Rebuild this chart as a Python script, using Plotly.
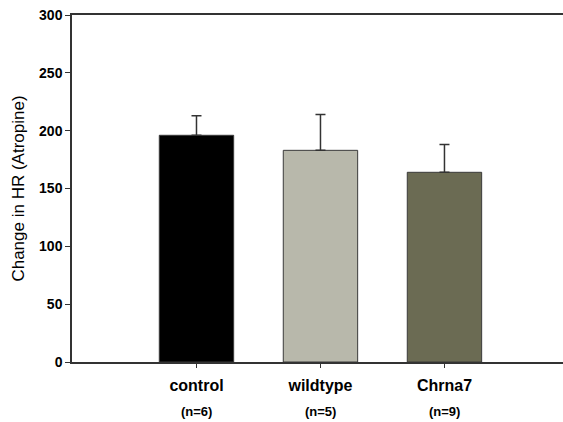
import plotly.graph_objects as go

categories = ["control", "wildtype", "Chrna7"]
n_labels = ["(n=6)", "(n=5)", "(n=9)"]
means = [196, 183, 164]
errors_up = [17, 31, 24]
colors = ["#000000", "#b8b8ab", "#6b6b53"]
y_ticks = [0, 50, 100, 150, 200, 250, 300]

x_pos = list(range(len(categories)))

fig = go.Figure()
fig.add_trace(go.Bar(
    x=x_pos, y=means, width=0.6,
    marker=dict(color=colors, line=dict(color="#3a3a3a", width=1)),
    error_y=dict(type="data", array=errors_up, arrayminus=[0]*len(means), symmetric=False,
                 color="#333333", thickness=1.5, width=5),
    showlegend=False,
))

font = "Arial, Liberation Sans, sans-serif"
for xi, lab in zip(x_pos, n_labels):
    fig.add_annotation(x=xi, xref="x", y=-0.143, yref="paper", text="<b>%s</b>" % lab,
                       showarrow=False, yanchor="middle",
                       font=dict(family=font, size=13, color="#000"))

fig.update_layout(
    width=563, height=422,
    margin=dict(l=72, r=0, t=15, b=60),
    plot_bgcolor="white", paper_bgcolor="white",
    font=dict(family=font, color="#000"),
    xaxis=dict(range=[-1.004, 2.956], tickvals=x_pos,
               ticktext=["<b>%s</b>" % c for c in categories],
               tickfont=dict(size=16, family=font), ticks="outside", ticklen=4, tickcolor="#333",
               ticklabelstandoff=4,
               showline=True, linecolor="#333", linewidth=1.5, mirror=True, showgrid=False,
               zeroline=False),
    yaxis=dict(range=[0, 300], tickvals=y_ticks, ticktext=["<b>%d</b>" % v for v in y_ticks],
               tickfont=dict(size=14, family=font), ticks="outside", ticklen=5, tickcolor="#333",
               showline=True, linecolor="#333", linewidth=1.5, showgrid=False, zeroline=False,
               title=dict(text="Change in HR (Atropine)", font=dict(size=17, family=font), standoff=10)),
)

fig.write_html("out.html", config={"displayModeBar": False},
               post_script="document.body.style.margin='0';document.body.style.overflow='hidden';")
